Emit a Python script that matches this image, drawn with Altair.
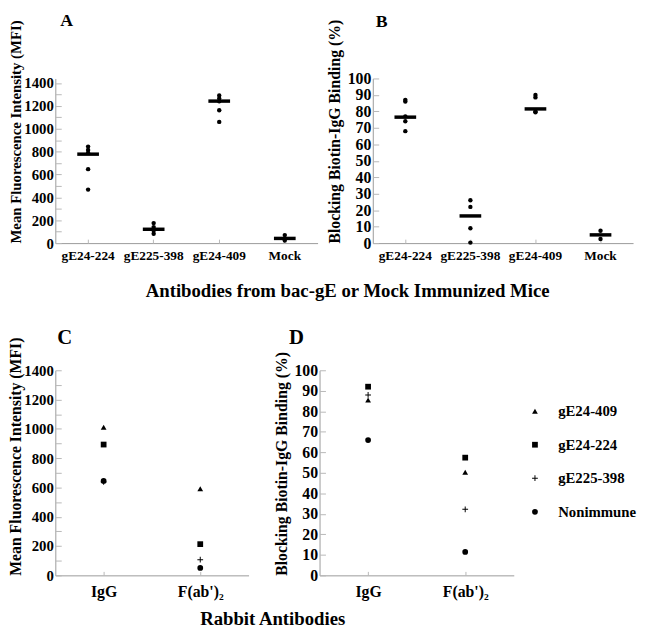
import altair as alt
import pandas as pd

FONT = "Liberation Serif"
GRAY = "#9a9a9a"
TICKGRAY = "#b8b8b8"

# ---------- Panels A and B (mouse antibodies) ----------
cats_ab = ["gE24-224", "gE225-398", "gE24-409", "Mock"]

a_gE24_224 = [844, 815, 789, 647, 468]
a_gE225_398 = [175, 140, 110, 82]
a_gE24_409 = [1292, 1265, 1240, 1162, 1060]
a_mock = [70, 22]
a_means = [778, 121, 1242, 41]

b_gE24_224 = [87, 86, 77, 74, 68]
b_gE225_398 = [26, 22, 9, 0.3]
b_gE24_409 = [90, 88.5, 80, 79.5]
b_mock = [7.5, 2.5]
b_means = [76.5, 16.5, 81.5, 5]

mfi_labels = [0, 200, 400, 600, 800, 1000, 1200, 1400]
mfi_ticks = list(range(0, 1401, 100))
pct_labels = [0, 10, 20, 30, 40, 50, 60, 70, 80, 90, 100]

# ---------- Panels C and D (rabbit antibodies) ----------
cats_cd = ["IgG", "F(ab')\u2082"]
series = ["gE24-409", "gE24-224", "gE225-398", "Nonimmune"]
PLUS = "M-1,-0.17H-0.17V-1H0.17V-0.17H1V0.17H0.17V1H-0.17V0.17H-1Z"
shapes = ["triangle-up", "square", PLUS, "circle"]

c_gE24_409 = [1011, 591]
c_gE24_224 = [893, 213]
c_gE225_398 = [638, 107]
c_nonimmune = [645, 51]

d_gE24_409 = [85.5, 50.3]
d_gE24_224 = [92, 57.4]
d_gE225_398 = [88, 32.2]
d_nonimmune = [66, 11.4]


def dots_frame(cats, groups):
    return pd.DataFrame(
        [{"cat": c, "v": v} for c, vals in zip(cats, groups) for v in vals]
    )


def series_frame(cats, groups):
    return pd.DataFrame(
        [
            {"series": s, "cat": c, "v": v}
            for s, vals in zip(series, groups)
            for c, v in zip(cats, vals)
        ]
    )


def y_tick_axis(values):
    return alt.Axis(orient="left", offset=-6, tickSize=6, tickColor=TICKGRAY,
                    domain=False, labels=False, grid=False, title=None,
                    values=values)


X_TICK_AXIS = alt.Axis(orient="bottom", offset=-4, tickSize=4, tickColor=TICKGRAY,
                       domain=False, labels=False, grid=False, title=None)


def x_axis(lsize, lpad, xtitle, tx, ty):
    kw = dict(orient="bottom", labelAngle=0, labelFontSize=lsize, labelPadding=lpad,
              ticks=False, domainColor=GRAY, grid=False)
    if xtitle:
        kw.update(title=xtitle, titleFontSize=19, titleX=tx, titleY=ty,
                  titleBaseline="alphabetic", titleAlign="center")
    else:
        kw.update(title=None)
    return alt.Axis(**kw)


def y_axis(values, title, tsize, lsize, tpad):
    return alt.Axis(orient="left", values=values, format="d", title=title,
                    titleFontSize=tsize, labelFontSize=lsize, labelPadding=2,
                    titlePadding=tpad, labelOverlap=False, ticks=False,
                    domainColor=GRAY, grid=False, titleAnchor="start")


def letter_title(letter, size, ldx, loff):
    return alt.TitleParams(text=letter, anchor="start", frame="group", dx=ldx,
                           offset=loff, fontSize=size, font=FONT, fontWeight="bold",
                           color="black")


def ab_panel(cats, groups, means, ydom, ylab, ytick, ytitle, ytsize, ylsize,
             ytpad, w, h, letter, ldx, loff, xtitle=None):
    ddf = dots_frame(cats, groups)
    mdf = pd.DataFrame({"cat": cats, "v": means})
    xs = alt.Scale(domain=cats, paddingInner=0, paddingOuter=0)
    ys = alt.Scale(domain=ydom, nice=False, zero=True)
    dots = alt.Chart(ddf).mark_circle(size=20, color="black", opacity=1).encode(
        x=alt.X("cat:N", scale=xs, axis=x_axis(13.5, 6, xtitle, 296, 54)),
        y=alt.Y("v:Q", scale=ys, axis=y_axis(ylab, ytitle, ytsize, ylsize, ytpad)),
    )
    bars = alt.Chart(mdf).mark_tick(size=22, thickness=3.5, color="black", opacity=1).encode(
        x=alt.X("cat:N", scale=xs, axis=X_TICK_AXIS),
        y=alt.Y("v:Q", scale=ys, axis=y_tick_axis(ytick)),
    )
    return (
        alt.layer(dots, bars)
        .resolve_axis(x="independent", y="independent")
        .properties(width=w, height=h, title=letter_title(letter, 18, ldx, loff))
    )


def cd_panel(cats, groups, ydom, ylab, ytick, ytitle, ytsize, ylsize, ytpad, w, h,
             letter, ldx, loff, xtitle=None, legend=False, jitter=False):
    df = series_frame(cats, groups)
    xs = alt.Scale(domain=cats, paddingInner=0, paddingOuter=0)
    ys = alt.Scale(domain=ydom, nice=False, zero=True)
    ss = alt.Scale(domain=series, range=shapes)
    x_main = x_axis(16, 8, xtitle, 220, 50)
    y_main = y_axis(ylab, ytitle, ytsize, ylsize, ytpad)
    if legend:
        leg = alt.Legend(title=None, orient="none", legendX=211, legendY=34,
                         labelFontSize=15, labelFont=FONT, labelFontWeight="bold",
                         labelColor="black", symbolSize=34, symbolFillColor="black",
                         symbolStrokeWidth=0, rowPadding=18, labelOffset=16)
    else:
        leg = None
    pt = dict(filled=True, size=34, color="black", opacity=1)

    if jitter:
        moved = (df["cat"] == cats[0]) & df["series"].isin(["Nonimmune", "gE225-398"])
        main_df = df[~moved]
        circ_df = df[moved & (df["series"] == "Nonimmune")]
        plus_df = df[moved & (df["series"] == "gE225-398")]
    else:
        main_df = df
    main = alt.Chart(main_df).mark_point(**pt).encode(
        x=alt.X("cat:N", scale=xs, axis=x_main),
        y=alt.Y("v:Q", scale=ys, axis=y_main),
        shape=alt.Shape("series:N", scale=ss, legend=leg),
    )
    layers = [main]
    if jitter:
        layers.append(alt.Chart(circ_df).mark_point(dx=-3, **pt).encode(
            x=alt.X("cat:N", scale=xs, axis=X_TICK_AXIS),
            y=alt.Y("v:Q", scale=ys, axis=y_tick_axis(ytick)),
            shape=alt.Shape("series:N", scale=ss, legend=None),
        ))
        layers.append(alt.Chart(plus_df).mark_point(dx=5, **pt).encode(
            x=alt.X("cat:N", scale=xs, axis=None),
            y=alt.Y("v:Q", scale=ys, axis=None),
            shape=alt.Shape("series:N", scale=ss, legend=None),
        ))
    else:
        layers.append(alt.Chart(df).mark_point(filled=True, size=28, opacity=0).encode(
            x=alt.X("cat:N", scale=xs, axis=X_TICK_AXIS),
            y=alt.Y("v:Q", scale=ys, axis=y_tick_axis(ytick)),
        ))
    return (
        alt.layer(*layers)
        .resolve_axis(x="independent", y="independent")
        .properties(width=w, height=h, title=letter_title(letter, 21, ldx, loff))
    )


panel_a = ab_panel(cats_ab, [a_gE24_224, a_gE225_398, a_gE24_409, a_mock], a_means,
                   [0, 1440], mfi_labels, mfi_ticks,
                   "Mean Fluorescence Intensity (MFI)", 15, 15, 0, 266, 167,
                   "A", 5, -11, xtitle="Antibodies from bac-gE or Mock Immunized Mice")
panel_b = ab_panel(cats_ab, [b_gE24_224, b_gE225_398, b_gE24_409, b_mock], b_means,
                   [0, 100], pct_labels, pct_labels,
                   "Blocking Biotin-IgG Binding (%)", 16, 16, 5, 264, 167,
                   "B", 3, -12)
panel_c = cd_panel(cats_cd, [c_gE24_409, c_gE24_224, c_gE225_398, c_nonimmune],
                   [0, 1400], mfi_labels, mfi_ticks,
                   "Mean Fluorescence Intensity (MFI)", 16, 15, 0, 196, 208,
                   "C", 2, -11, xtitle="Rabbit Antibodies", jitter=True)
panel_d = cd_panel(cats_cd, [d_gE24_409, d_gE24_224, d_gE225_398, d_nonimmune],
                   [0, 100], pct_labels, pct_labels,
                   "Blocking Biotin-IgG Binding (%)", 16, 16, 5, 197, 208,
                   "D", -31, 4, legend=True)

row1 = alt.hconcat(panel_a, panel_b, spacing=56, bounds="flush")
row2 = alt.hconcat(panel_c, panel_d, spacing=72, bounds="flush").resolve_scale(shape="independent")

chart = (
    alt.vconcat(row1, row2, spacing=26)
    .properties(padding=0)
    .configure_view(stroke=None)
    .configure_axis(labelFont=FONT, labelFontWeight="bold", labelColor="black",
                    titleFont=FONT, titleFontWeight="bold", titleColor="black")
    .configure_legend(labelFont=FONT, labelFontWeight="bold", labelColor="black")
)

chart.save("out.html", embed_options={"renderer": "svg", "actions": False})
